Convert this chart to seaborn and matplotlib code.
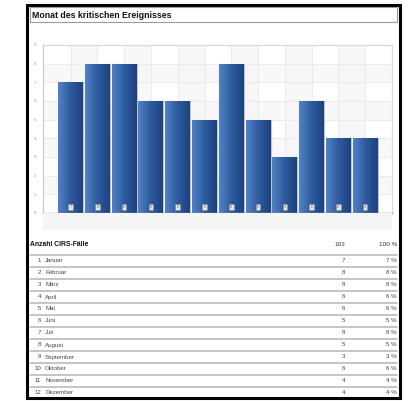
import numpy as np
import pandas as pd
import matplotlib
matplotlib.use("Agg")
import matplotlib.pyplot as plt
from matplotlib.patches import Rectangle
from matplotlib.lines import Line2D
import seaborn as sns

# chart data
month_nums = ["1", "2", "3", "4", "5", "6", "7", "8", "9", "10", "11", "12"]
month_names = ["Januar", "Februar", "März", "April", "Mai", "Juni", "Juli",
               "August", "September", "Oktober", "November", "Dezember"]
counts = [7, 8, 8, 6, 6, 5, 8, 5, 3, 6, 4, 4]
percents = [7, 8, 8, 6, 6, 5, 8, 5, 3, 6, 4, 4]
total_count = 103
total_percent = 100
title = "Monat des kritischen Ereignisses"
table_title = "Anzahl CIRS-Fälle"

sns.set_style("white")
plt.rcParams["font.family"] = ["Liberation Sans", "DejaVu Sans"]

W, H = 408, 401
fig = plt.figure(figsize=(W / 100, H / 100), dpi=100)


def fx(x):
    return x / W


def fy(y):
    return 1 - y / H


# page frame and title box
fig.patches.append(Rectangle((fx(27), fy(398)), fx(373), 393 / H, transform=fig.transFigure,
                             fill=False, ec="black", lw=2.2))
fig.patches.append(Rectangle((fx(30), fy(22)), fx(367), 15 / H, transform=fig.transFigure,
                             fill=False, ec="#9a9a9a", lw=0.8))
fig.text(fx(32), fy(15), title, fontsize=6.3, fontweight="bold", va="center", color="#111")

# grey band under the plot area
fig.patches.append(Rectangle((fx(43), fy(230)), fx(349), 17 / H, transform=fig.transFigure,
                             fc="#f5f5f5", ec="none", zorder=0))

ax = fig.add_axes([fx(43), fy(213), fx(349), 168 / H])
df = pd.DataFrame({"Monat": month_nums, "Anzahl": counts})

sns.barplot(data=df, x="Monat", y="Anzahl", color="#2f5f9f", width=0.93,
            edgecolor="#c4c4c4", linewidth=0.8, ax=ax, zorder=2)
bars = list(ax.patches)

# gradient fill inside each bar
grad = np.linspace(0, 1, 64).reshape(1, -1)
cmap = matplotlib.colors.LinearSegmentedColormap.from_list("b", ["#5283c6", "#2d5b9e", "#1d4280"])
for p in bars:
    x0, y0 = p.get_x(), p.get_y()
    w, h = p.get_width(), p.get_height()
    im = ax.imshow(grad, extent=[x0, x0 + w, y0, y0 + h], aspect="auto", cmap=cmap,
                   zorder=2.5, origin="lower")
    im.set_clip_path(p)

# alternating background bands
for i in range(0, 11, 2):
    ax.axvspan(i, i + 1, color="#f4f4f4", zorder=0, lw=0, alpha=0.7)
for j in range(0, 9, 2):
    ax.axhspan(j + 1, j + 2, color="#f6f6f6", zorder=0, lw=0, alpha=0.7)
ax.grid(True, color="#e8e8e8", lw=0.6)
ax.set_axisbelow(True)

for i, v in enumerate(counts):
    ax.text(i, 0.33, str(v), fontsize=2.6, ha="center", va="center", color="#666", zorder=4,
            bbox=dict(boxstyle="square,pad=0.35", fc="#e6e6e6", ec="#8a8a8a", lw=0.4))

ax.set_xlim(-1.03, 12.0)
ax.set_ylim(0, 9)
ax.set_yticks(range(10))
ax.set_xlabel("")
ax.set_ylabel("")
ax.tick_params(axis="both", length=0, labelsize=3.2, colors="#9a9a9a")
ax.tick_params(axis="y", pad=5)
ax.tick_params(axis="x", pad=6)
for s in ["top", "right"]:
    ax.spines[s].set_color("#d8d8d8")
    ax.spines[s].set_linewidth(0.9)
ax.spines["left"].set_color("#c8c8c8")
ax.spines["bottom"].set_color("#9a9a9a")
ax.spines["left"].set_linewidth(0.8)
ax.spines["bottom"].set_linewidth(1.0)

# table below the chart
fig.text(fx(30), fy(245), table_title, fontsize=4.9, fontweight="bold", va="center", color="#111")
fig.text(fx(345), fy(245), str(total_count), fontsize=4.6, ha="right", va="center", color="#333")
fig.text(fx(397), fy(245), f"{total_percent} %", fontsize=4.6, ha="right", va="center", color="#333")

row0, step = 261, 12.0
for i, name in enumerate(month_names):
    yc = row0 + i * step
    fig.lines.append(Line2D([fx(30), fx(397)], [fy(yc - 6), fy(yc - 6)], transform=fig.transFigure,
                            color="#b5b5b5", lw=1.1))
    fig.text(fx(41), fy(yc), str(i + 1), fontsize=4.4, ha="right", va="center", color="#444")
    fig.text(fx(45), fy(yc), name, fontsize=4.4, ha="left", va="center", color="#444")
    fig.text(fx(345), fy(yc), str(counts[i]), fontsize=4.4, ha="right", va="center", color="#444")
    fig.text(fx(397), fy(yc), f"{percents[i]} %", fontsize=4.4, ha="right", va="center", color="#444")

fig.savefig("out.png", dpi=100)
